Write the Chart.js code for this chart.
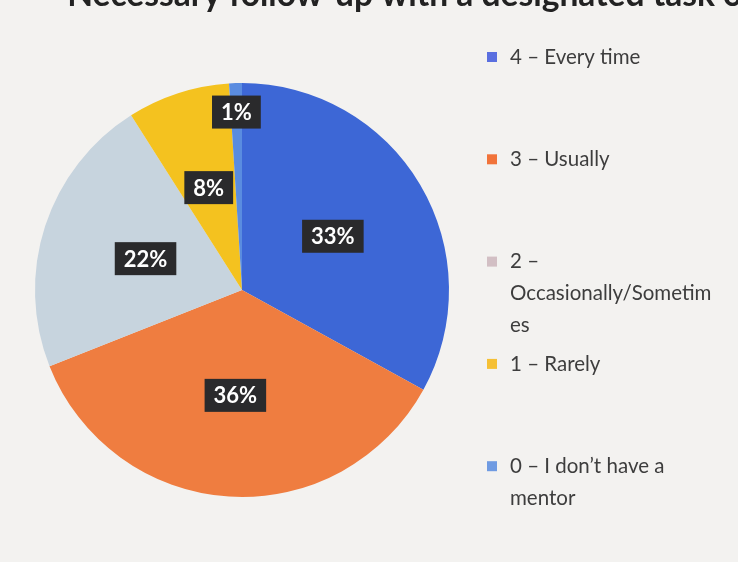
<!DOCTYPE html>
<html>
<head>
<meta charset="utf-8">
<script src="https://cdn.jsdelivr.net/npm/chart.js@4.4.1/dist/chart.umd.min.js"></script>
<style>
  html, body { margin: 0; padding: 0; background: #f3f2f0; }
  #wrap { position: relative; width: 738px; height: 562px; overflow: hidden; }
  canvas { display: block; }
</style>
</head>
<body>
<div id="wrap"><canvas id="c" width="738" height="562"></canvas></div>
<script>
// ---- data ----
const titleText = "Necessary follow-up with a designated task owner";
const categories = [
  "4 – Every time",
  "3 – Usually",
  "2 – Occasionally/Sometimes",
  "1 – Rarely",
  "0 – I don’t have a mentor"
];
const percentages = [33, 36, 22, 8, 1];
const sliceColors = ["#3d67d6", "#ef7d40", "#c7d4de", "#f4c21f", "#5a8ce0"];
const legendColors = ["#5a6fe0", "#f1733a", "#d2bfc4", "#f5c035", "#6f9be2"];

// ---- plugins ----
const bgPlugin = {
  id: 'bg',
  beforeDraw(chart) {
    const ctx = chart.ctx;
    ctx.save();
    ctx.fillStyle = '#f3f2f0';
    ctx.fillRect(0, 0, chart.width, chart.height);
    ctx.restore();
  }
};

const clippedTitle = {
  id: 'clippedTitle',
  afterDraw(chart, args, opts) {
    const ctx = chart.ctx;
    ctx.save();
    ctx.font = 'bold 34px ' + opts.family;
    const probe = opts.text.slice(1, opts.text.length - 4);
    const size = 34 * opts.span / ctx.measureText(probe).width;
    ctx.font = 'bold ' + size.toFixed(2) + 'px ' + opts.family;
    const x = opts.secondLetterX - ctx.measureText(opts.text[0]).width;
    ctx.fillStyle = opts.color;
    ctx.textBaseline = 'alphabetic';
    ctx.textAlign = 'left';
    ctx.fillText(opts.text, x, opts.baseline);
    ctx.restore();
  }
};

const sliceLabels = {
  id: 'sliceLabels',
  afterDatasetsDraw(chart, args, opts) {
    const ctx = chart.ctx;
    const meta = chart.getDatasetMeta(0);
    const data = chart.data.datasets[0].data;
    const total = data.reduce((a, b) => a + b, 0);
    ctx.save();
    ctx.font = opts.font;
    ctx.textAlign = 'center';
    ctx.textBaseline = 'middle';
    meta.data.forEach((arc, i) => {
      const p = arc.getProps(['x', 'y', 'startAngle', 'endAngle', 'outerRadius'], true);
      const mid = (p.startAngle + p.endAngle) / 2;
      const r = p.outerRadius * opts.radial[i];
      const cx = p.x + Math.cos(mid) * r;
      const cy = p.y + Math.sin(mid) * r;
      const txt = Math.round(data[i] / total * 100) + '%';
      const w = ctx.measureText(txt).width + opts.padX * 2;
      const h = opts.boxH;
      ctx.fillStyle = opts.boxColor;
      ctx.fillRect(cx - w / 2, cy - h / 2, w, h);
      ctx.fillStyle = opts.textColor;
      ctx.fillText(txt, cx, cy + 1);
    });
    ctx.restore();
  }
};

function wrapText(ctx, text, maxW) {
  const words = text.split(' ');
  const lines = [];
  let cur = '';
  for (const w of words) {
    const test = cur ? cur + ' ' + w : w;
    if (ctx.measureText(test).width <= maxW) { cur = test; continue; }
    if (cur) lines.push(cur);
    let word = w;
    while (ctx.measureText(word).width > maxW) {
      let k = word.length;
      while (k > 1 && ctx.measureText(word.slice(0, k)).width > maxW) k--;
      lines.push(word.slice(0, k));
      word = word.slice(k);
    }
    cur = word;
  }
  if (cur) lines.push(cur);
  return lines;
}

const sideLegend = {
  id: 'sideLegend',
  afterDraw(chart, args, opts) {
    const ctx = chart.ctx;
    ctx.save();
    ctx.font = opts.font;
    ctx.textBaseline = 'middle';
    ctx.textAlign = 'left';
    chart.data.labels.forEach((lab, i) => {
      const y0 = opts.firstY + i * opts.slot;
      ctx.fillStyle = legendColors[i];
      ctx.fillRect(opts.markerX, y0 - opts.marker / 2, opts.marker, opts.marker);
      ctx.fillStyle = opts.color;
      const lines = wrapText(ctx, lab, opts.maxW);
      lines.forEach((ln, j) => ctx.fillText(ln, opts.textX, y0 + j * opts.lineH));
    });
    ctx.restore();
  }
};

new Chart(document.getElementById('c'), {
  type: 'pie',
  data: {
    labels: categories,
    datasets: [{
      data: percentages,
      backgroundColor: sliceColors,
      borderWidth: 0,
      hoverOffset: 0,
      offset: 0
    }]
  },
  options: {
    responsive: false,
    animation: false,
    events: [],
    rotation: 0,
    layout: { padding: { left: 35, top: 83, right: 289, bottom: 65 } },
    plugins: {
      legend: { display: false },
      tooltip: { enabled: false },
      title: { display: false },
      clippedTitle: {
        text: titleText,
        family: 'Lato',
        secondLetterX: 93,
        span: 650,
        baseline: 6,
        color: '#222222'
      },
      sliceLabels: {
        radial: [0.51, 0.51, 0.49, 0.52, 0.86],
        font: 'bold 22px Lato',
        boxColor: '#2a2a2c',
        textColor: '#ffffff',
        padX: 9,
        boxH: 33
      },
      sideLegend: {
        font: '20.5px Lato',
        color: '#3d3d3d',
        markerX: 487,
        marker: 10,
        textX: 510,
        firstY: 57,
        slot: 102.3,
        lineH: 32,
        maxW: 207
      }
    }
  },
  plugins: [bgPlugin, sliceLabels, sideLegend, clippedTitle]
});
</script>
</body>
</html>
